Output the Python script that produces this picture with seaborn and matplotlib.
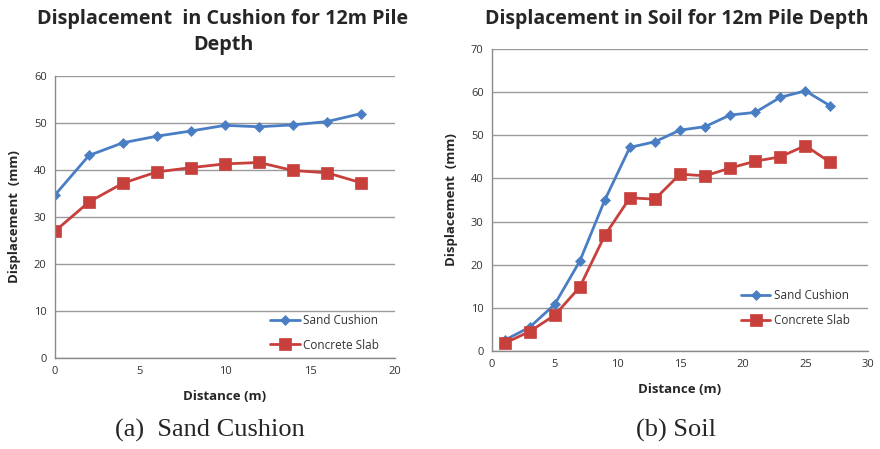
import matplotlib
matplotlib.use("Agg")
import matplotlib.pyplot as plt
import seaborn as sns
import pandas as pd

# Data (a) Sand Cushion
dist_a = [0, 2, 4, 6, 8, 10, 12, 14, 16, 18]
sand_a = [34.7, 43.1, 45.8, 47.2, 48.3, 49.5, 49.2, 49.6, 50.3, 52.0]
slab_a = [27.0, 33.2, 37.2, 39.6, 40.5, 41.3, 41.6, 39.9, 39.4, 37.3]

# Data (b) Soil
dist_b = [1, 3, 5, 7, 9, 11, 13, 15, 17, 19, 21, 23, 25, 27]
sand_b = [2.5, 5.5, 10.8, 20.8, 35.0, 47.2, 48.5, 51.2, 52.0, 54.7, 55.3, 58.8, 60.3, 56.8]
slab_b = [1.8, 4.5, 8.3, 14.8, 26.8, 35.5, 35.2, 41.0, 40.6, 42.4, 44.0, 45.0, 47.6, 43.7]

series_names = ["Sand Cushion", "Concrete Slab"]
title_a = "Displacement  in Cushion for 12m Pile\nDepth"
title_b = "Displacement in Soil for 12m Pile Depth"
caption_a = "(a)  Sand Cushion"
caption_b = "(b) Soil"

sns.set_theme(style="white")
plt.rcParams['font.family'] = ['Open Sans', 'DejaVu Sans']

W, H = 880, 449
fig = plt.figure(figsize=(W / 100, H / 100), dpi=100)

def px_axes(l, t, r, b):
    return fig.add_axes([l / W, 1 - b / H, (r - l) / W, (b - t) / H])

ax_a = px_axes(55, 76, 395, 358)
ax_b = px_axes(492, 49, 868, 351)

blue = "#4A7EC4"
red = "#C8403C"
palette = {series_names[0]: blue, series_names[1]: red}
markers = {series_names[0]: "D", series_names[1]: "s"}
sizes_m = {series_names[0]: 5, series_names[1]: 8}

def make_df(x, s1, s2):
    return pd.DataFrame({
        "Distance": list(x) + list(x),
        "Disp": list(s1) + list(s2),
        "Series": [series_names[0]] * len(x) + [series_names[1]] * len(x),
    })

def draw(ax, df, xlim, ylim, leg_anchor):
    for name in series_names:
        sub = df[df["Series"] == name]
        sns.lineplot(data=sub, x="Distance", y="Disp", ax=ax, color=palette[name],
                     marker=markers[name], markersize=sizes_m[name], linewidth=2,
                     markeredgewidth=0.5, markeredgecolor=palette[name],
                     label=name, sort=False)
    ax.set_xlim(*xlim)
    ax.set_ylim(*ylim)
    ax.set_xticks(range(xlim[0], xlim[1] + 1, 5))
    ax.set_yticks(range(ylim[0], ylim[1] + 1, 10))
    ax.yaxis.grid(True, color="#9a9a9a", linewidth=1)
    ax.xaxis.grid(False)
    for s in ["top", "right"]:
        ax.spines[s].set_visible(False)
    for s in ["left", "bottom"]:
        ax.spines[s].set_color("#8a8a8a")
        ax.spines[s].set_linewidth(1)
    ax.tick_params(axis="both", labelsize=8, colors="#333333", length=0, pad=6)
    ax.set_xlabel("Distance (m)", fontsize=9.5, fontweight="bold", labelpad=9)
    ax.set_ylabel("Displacement  (mm)", fontsize=9.5, fontweight="bold", labelpad=9)
    leg = ax.legend(loc="lower right", bbox_to_anchor=leg_anchor, frameon=False,
                    fontsize=8.5, handlelength=2.5, labelspacing=1.0, handletextpad=0.3)
    for t in leg.get_texts():
        t.set_color("#333333")

draw(ax_a, make_df(dist_a, sand_a, slab_a), (0, 20), (0, 60), (0.985, -0.015))
draw(ax_b, make_df(dist_b, sand_b, slab_b), (0, 30), (0, 70), (0.98, 0.045))

fig.text(223 / W, 1 - 32 / H, title_a, ha="center", va="center", fontsize=14.2,
         fontweight="bold", linespacing=1.35)
fig.text(677 / W, 1 - 19 / H, title_b, ha="center", va="center", fontsize=14,
         fontweight="bold")

fig.text(210 / W, 1 - 430 / H, caption_a, ha="center", va="center", fontsize=19,
         family=["Liberation Serif", "DejaVu Serif"])
fig.text(676 / W, 1 - 430 / H, caption_b, ha="center", va="center", fontsize=19,
         family=["Liberation Serif", "DejaVu Serif"])

fig.savefig("out.png", dpi=100)
